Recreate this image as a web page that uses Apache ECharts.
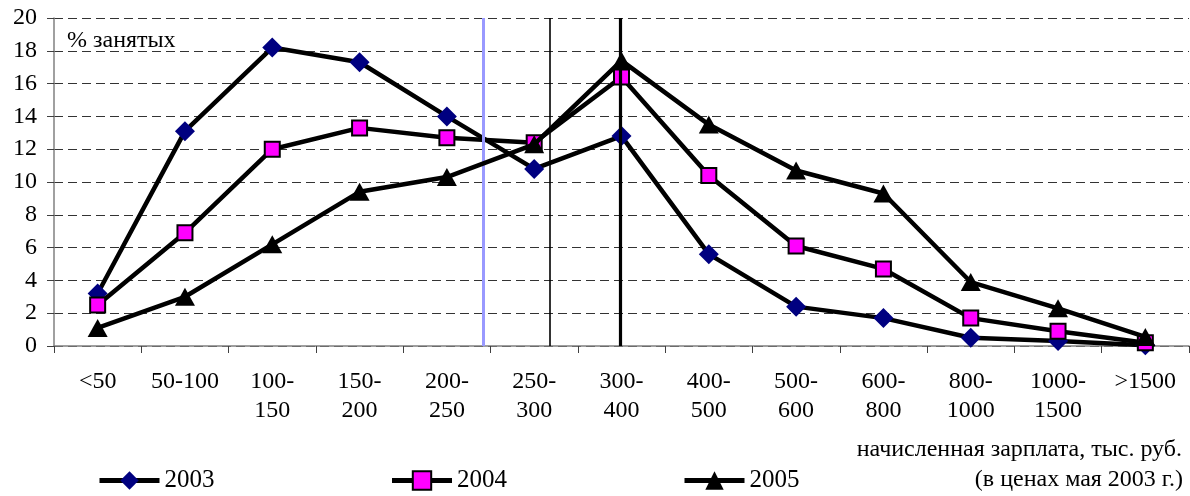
<!DOCTYPE html>
<html>
<head>
<meta charset="utf-8">
<script src="https://cdn.jsdelivr.net/npm/echarts@6/dist/echarts.min.js"></script>
<style>
html,body{margin:0;padding:0;background:#fff;}
#chart{width:1190px;height:496px;}
</style>
</head>
<body>
<div id="chart"></div>
<script>
var categories = ['<50','50-100','100-\n150','150-\n200','200-\n250','250-\n300','300-\n400','400-\n500','500-\n600','600-\n800','800-\n1000','1000-\n1500','>1500'];
var seriesNames = ['2003','2004','2005'];
var values2003 = [3.2, 13.1, 18.2, 17.3, 14.0, 10.8, 12.8, 5.6, 2.4, 1.7, 0.5, 0.3, 0.05];
var values2004 = [2.5, 6.9, 12.0, 13.3, 12.7, 12.4, 16.4, 10.4, 6.1, 4.7, 1.7, 0.9, 0.2];
var values2005 = [1.1, 3.0, 6.2, 9.4, 10.3, 12.3, 17.4, 13.5, 10.7, 9.3, 3.9, 2.3, 0.55];
var yTicks = [0, 2, 4, 6, 8, 10, 12, 14, 16, 18, 20];
// reference lines, in category-index units
var refLineX = [4.42, 5.18, 5.98];

var FONT = 'Liberation Serif';
var chart = echarts.init(document.getElementById('chart'));

var refStyles = [
  {color:'#9999FF', width:3},
  {color:'#000000', width:1.6},
  {color:'#000000', width:3.2}
];

var option = {
  animation:false,
  backgroundColor:'#ffffff',
  grid:{left:54, right:1, top:18, bottom:150, containLabel:false},
  xAxis:[{
    type:'category',
    data:categories,
    boundaryGap:true,
    axisLine:{onZero:false, lineStyle:{color:'#808080', width:1.5}},
    axisTick:{show:true, length:7, lineStyle:{color:'#404040', width:1}},
    axisLabel:{fontFamily:FONT, fontSize:24, color:'#000', margin:21, lineHeight:29, interval:0}
  },{
    type:'value', min:-0.5, max:12.5, show:false,
    axisLine:{onZero:false}
  }],
  yAxis:{
    type:'value', min:yTicks[0], max:yTicks[yTicks.length-1], interval:2,
    axisLine:{show:true, onZero:false, lineStyle:{color:'#808080', width:1.5}},
    axisTick:{show:true, length:7, lineStyle:{color:'#404040', width:1}},
    axisLabel:{fontFamily:FONT, fontSize:24, color:'#000', margin:17},
    splitLine:{show:true, lineStyle:{color:'#333333', width:1, type:[9,5]}}
  },
  legend:{
    data:seriesNames,
    left:97, top:468, padding:0,
    itemWidth:60, itemHeight:23, itemGap:175,
    textStyle:{fontFamily:FONT, fontSize:25, color:'#000'},
    lineStyle:{width:5, color:'#000'}
  },
  graphic:[
    {type:'text', left:67, top:29, style:{text:'% занятых', fontFamily:FONT, fontSize:24, fill:'#000'}},
    {type:'text', right:8, top:438, style:{text:'начисленная зарплата, тыс. руб.', fontFamily:FONT, fontSize:24, fill:'#000', textAlign:'right'}},
    {type:'text', right:7, top:468, style:{text:'(в ценах мая 2003 г.)', fontFamily:FONT, fontSize:24, fill:'#000', textAlign:'right'}}
  ],
  series:[
    {
      name:'refs', type:'line', xAxisIndex:1, data:[], z:1, silent:true,
      markLine:{
        silent:true, symbol:'none', label:{show:false},
        data: refLineX.map(function(x,i){ return {xAxis:x, lineStyle:{color:refStyles[i].color, width:refStyles[i].width, type:'solid'}}; })
      }
    },
    {
      name:'2003', type:'line', data:values2003, z:3,
      symbol:'diamond', symbolSize:20,
      lineStyle:{color:'#000', width:4.5},
      itemStyle:{color:'#000080', borderWidth:0}
    },
    {
      name:'2004', type:'line', data:values2004, z:4,
      symbol:'rect', symbolSize:15,
      lineStyle:{color:'#000', width:4.5},
      itemStyle:{color:'#FF00FF', borderColor:'#000', borderWidth:2}
    },
    {
      name:'2005', type:'line', data:values2005, z:5,
      symbol:'triangle', symbolSize:[20,18],
      lineStyle:{color:'#000', width:4.5},
      itemStyle:{color:'#000', borderWidth:0}
    }
  ]
};
chart.setOption(option);
</script>
</body>
</html>
